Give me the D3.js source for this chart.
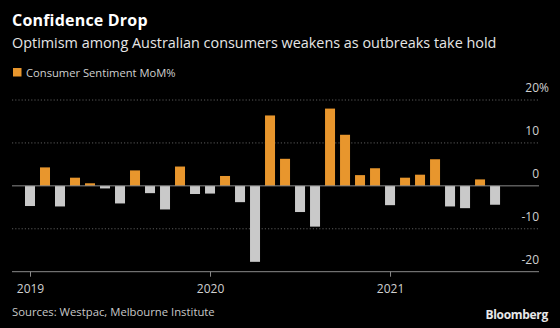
<!DOCTYPE html>
<meta charset="utf-8">
<script src="https://d3js.org/d3.v7.min.js"></script>
<style>
  body { margin: 0; background: #000; }
  svg { display: block; font-family: "Open Sans", "Noto Sans", sans-serif; }
</style>
<div id="chart"></div>
<script>

// monthly change in the Westpac-Melbourne Institute index, Jan 2019 .. Aug 2021
var months = ["2019-01","2019-02","2019-03","2019-04","2019-05","2019-06","2019-07","2019-08",
              "2019-09","2019-10","2019-11","2019-12","2020-01","2020-02","2020-03","2020-04",
              "2020-05","2020-06","2020-07","2020-08","2020-09","2020-10","2020-11","2020-12",
              "2021-01","2021-02","2021-03","2021-04","2021-05","2021-06","2021-07","2021-08"];
var sentiment = [-4.7, 4.3, -4.8, 1.9, 0.6, -0.6, -4.1, 3.6,
                 -1.7, -5.5, 4.5, -1.9, -1.8, 2.3, -3.8, -17.7,
                 16.4, 6.3, -6.1, -9.5, 18.0, 11.9, 2.5, 4.1,
                 -4.5, 1.9, 2.6, 6.2, -4.8, -5.2, 1.5, -4.4];
var yTicks = [20, 10, 0, -10, -20];
var yearTicks = ["2019-01", "2020-01", "2021-01"];

var W = 560, H = 328;
var orange = "#e8962d", grey = "#c9c9c9";

var svg = d3.select("#chart").append("svg")
    .attr("width", W)
    .attr("height", H);

svg.append("rect").attr("width", W).attr("height", H).attr("fill", "#000");

// titles
svg.append("text")
    .attr("x", 12).attr("y", 26)
    .attr("fill", "#fff")
    .style("font-size", "16px").style("font-weight", "bold")
    .style("letter-spacing", "0.2px")
    .text("Confidence Drop");
svg.append("text")
    .attr("x", 12).attr("y", 47.5)
    .attr("fill", "#e6e6e6")
    .style("font-size", "14.4px")
    .text("Optimism among Australian consumers weakens as outbreaks take hold");

// legend
svg.append("rect")
    .attr("x", 13).attr("y", 68).attr("width", 8.5).attr("height", 8.5)
    .attr("fill", orange);
svg.append("text")
    .attr("x", 26).attr("y", 76.5)
    .attr("fill", "#d0d0d0")
    .style("font-size", "11.2px")
    .text("Consumer Sentiment MoM%");

var left = 12, right = 539;
var parse = d3.timeParse("%Y-%m");
var idx = function(m) { return months.indexOf(m); };

var x = d3.scaleLinear()
    .domain([-1.2, 33.93])
    .range([left, right]);
var y = d3.scaleLinear()
    .domain([-20, 20])
    .range([271.7, 100]);

// dotted grid
svg.append("g")
  .selectAll("line")
  .data(yTicks.filter(function(d) { return d !== 0 && d !== -20; }))
  .enter().append("line")
    .attr("x1", left).attr("x2", right)
    .attr("y1", function(d) { return y(d); })
    .attr("y2", function(d) { return y(d); })
    .attr("stroke", "#5a5a5a")
    .attr("stroke-dasharray", "1.2,2");

// y labels sit above their grid lines
svg.append("g")
  .selectAll("text")
  .data(yTicks)
  .enter().append("text")
    .attr("x", right)
    .attr("y", function(d) { return y(d) - 8; })
    .attr("fill", "#d0d0d0")
    .style("font-size", "12px")
    .attr("text-anchor", "end")
    .text(function(d) { return d; });
svg.append("text")
    .attr("x", right).attr("y", y(20) - 8)
    .attr("fill", "#d0d0d0")
    .style("font-size", "12px")
    .text("%");

// bars
var bw = 10;
svg.append("g")
  .selectAll("rect")
  .data(sentiment)
  .enter().append("rect")
    .attr("x", function(d, i) { return x(i) - bw / 2; })
    .attr("width", bw)
    .attr("y", function(d) { return y(Math.max(0, d)); })
    .attr("height", function(d) { return Math.abs(y(d) - y(0)); })
    .attr("fill", function(d) { return d >= 0 ? orange : grey; });

// zero line
svg.append("line")
    .attr("x1", left).attr("x2", right)
    .attr("y1", y(0)).attr("y2", y(0))
    .attr("stroke", "#8a8a8a");

// x axis
var xAxis = svg.append("g")
    .attr("transform", "translate(0," + y(-20) + ")")
    .call(d3.axisBottom(x)
        .tickValues(yearTicks.map(idx))
        .tickSize(5)
        .tickPadding(8)
        .tickFormat(function(i) { return d3.timeFormat("%Y")(parse(months[i])); }));
xAxis.select(".domain").attr("stroke", "#8a8a8a").attr("d", "M" + left + ",0H" + right);
xAxis.selectAll(".tick line").attr("stroke", "#8a8a8a");
xAxis.selectAll(".tick text")
    .attr("fill", "#d0d0d0")
    .style("font-size", "12px")
    .style("font-family", "'Open Sans', 'Noto Sans', sans-serif");

// footer
svg.append("text")
    .attr("x", 12).attr("y", 315.5)
    .attr("fill", "#c8c8c8")
    .style("font-size", "11.3px")
    .text("Sources: Westpac, Melbourne Institute");
svg.append("text")
    .attr("x", 548).attr("y", 318.5)
    .attr("text-anchor", "end")
    .attr("fill", "#e8e8e8")
    .style("font-size", "12px").style("font-weight", "bold")
    .style("letter-spacing", "-0.3px")
    .text("Bloomberg");

</script>
